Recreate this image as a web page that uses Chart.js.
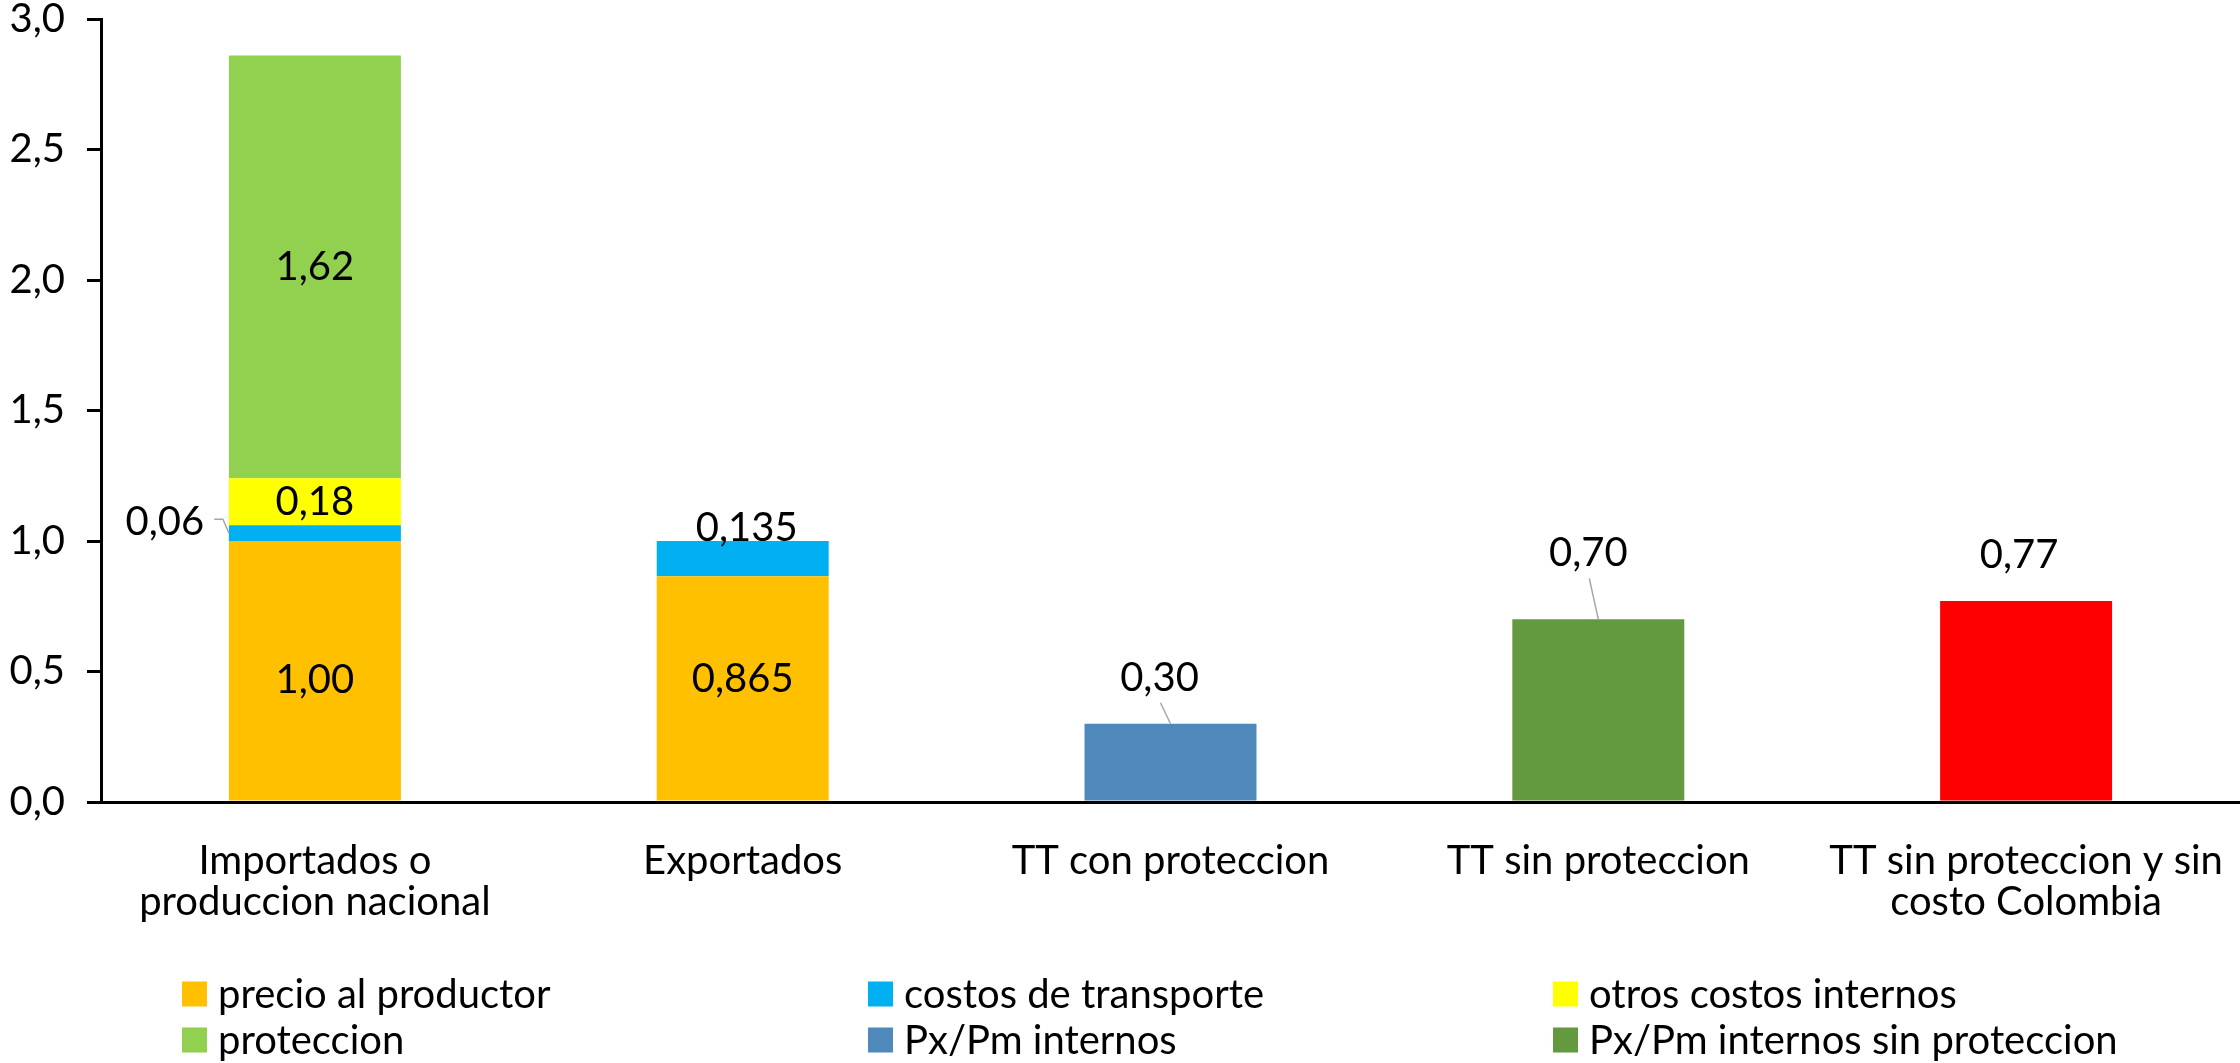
<!DOCTYPE html>
<html>
<head>
<meta charset="utf-8">
<title>Precios y terminos de intercambio</title>
<script src="https://cdn.jsdelivr.net/npm/chart.js@4.4.0/dist/chart.umd.min.js"></script>
<style>
  body { margin: 0; background: #fff; }
  #wrap { width: 2240px; height: 1063px; }
</style>
</head>
<body>
<div id="wrap"><canvas id="myCanvas"></canvas></div>
<script>
// categories (x axis), multi-line ones as arrays
var categories = [
  ['Importados o', 'produccion nacional'],
  'Exportados',
  'TT con proteccion',
  'TT sin proteccion',
  ['TT sin proteccion y sin', 'costo Colombia']
];

// series values, one per category (null = no segment)
var precioProductor   = [1.00, 0.865, null, null, null];
var costosTransporte  = [0.06, 0.135, null, null, null];
var otrosCostos       = [0.18, null, null, null, null];
var proteccion        = [1.62, null, null, null, null];
var pxPmInternos      = [null, null, 0.30, null, null];
var pxPmSinProteccion = [null, null, null, 0.70, null];
var ttSinCosto        = [null, null, null, null, 0.77];

var yTicks = [0, 0.5, 1.0, 1.5, 2.0, 2.5, 3.0];

var FONT = 'Lato, "Open Sans", sans-serif';
var FSIZE = 40;

function comma(v, d) { return v.toFixed(d).replace('.', ','); }
function fmtLabel(v) {
  var d = Math.abs(v * 100 - Math.round(v * 100)) > 1e-6 ? 3 : 2;
  return comma(v, d);
}

// manual label placements (like the hand-moved labels in the original)
var labelPlacement = {
  '0-0': { dy: 9 },
  '0-1': { dy: -9 },
  '1-0': { dx: -150, dy: -11, leader: 'elbow' },
  '1-1': { dx: 4, dy: -31 },
  '4-2': { top: true, dx: -11, dy: -46, leader: 'line' },
  '5-3': { top: true, dx: -10, dy: -66, leader: 'line' },
  '6-4': { top: true, dx: -7, dy: -46 }
};

var valueLabels = {
  id: 'valueLabels',
  afterDatasetsDraw: function(chart) {
    var ctx = chart.ctx;
    ctx.save();
    ctx.font = FSIZE + 'px ' + FONT;
    ctx.fillStyle = '#000';
    ctx.textAlign = 'center';
    ctx.textBaseline = 'middle';
    chart.data.datasets.forEach(function(ds, di) {
      var meta = chart.getDatasetMeta(di);
      ds.data.forEach(function(v, i) {
        if (v === null || v === undefined) return;
        var el = meta.data[i];
        var p = labelPlacement[di + '-' + i] || {};
        var cx = el.x, cy = p.top ? el.y : (el.y + el.base) / 2;
        var tx = cx + (p.dx || 0), ty = cy + (p.dy || 0);
        var txt = fmtLabel(v);
        ctx.fillText(txt, tx, ty);
        if (p.leader) {
          ctx.strokeStyle = '#A6A6A6';
          ctx.lineWidth = 1.5;
          ctx.beginPath();
          if (p.leader === 'elbow') {
            var w = ctx.measureText(txt).width;
            var left = el.x - el.width / 2;
            ctx.moveTo(tx + w / 2 + 10, ty - 3);
            ctx.lineTo(left - 6, ty - 3);
            ctx.lineTo(left, cy);
          } else {
            ctx.moveTo(tx + 1, ty + 25);
            ctx.lineTo(cx, el.y);
          }
          ctx.stroke();
        }
      });
    });
    ctx.restore();
  }
};

// legend in three aligned columns, two rows
var gridLegend = {
  id: 'gridLegend',
  afterDraw: function(chart) {
    var ctx = chart.ctx;
    var cols = [182, 868, 1553], rows = [994, 1040], box = 25;
    var items = chart.data.datasets.filter(function(d) { return !d.hideInLegend; });
    ctx.save();
    ctx.font = FSIZE + 'px ' + FONT;
    ctx.textBaseline = 'middle';
    ctx.textAlign = 'left';
    items.forEach(function(d, k) {
      var x = cols[k % 3], y = rows[Math.floor(k / 3)];
      ctx.fillStyle = d.backgroundColor;
      ctx.fillRect(x, y - box / 2, box, box);
      ctx.fillStyle = '#000';
      ctx.fillText(d.label, x + box + 11, y + 1);
    });
    ctx.restore();
  }
};

new Chart(document.getElementById('myCanvas'), {
  type: 'bar',
  data: {
    labels: categories,
    datasets: [
      { label: 'precio al productor', data: precioProductor, backgroundColor: '#FFC000' },
      { label: 'costos de transporte', data: costosTransporte, backgroundColor: '#00B0F0' },
      { label: 'otros costos internos', data: otrosCostos, backgroundColor: '#FFFF00' },
      { label: 'proteccion', data: proteccion, backgroundColor: '#92D050' },
      { label: 'Px/Pm internos', data: pxPmInternos, backgroundColor: '#4F89BC' },
      { label: 'Px/Pm internos sin proteccion', data: pxPmSinProteccion, backgroundColor: '#639A3F' },
      { label: 'TT sin proteccion y sin costo Colombia', data: ttSinCosto, backgroundColor: '#FF0000', hideInLegend: true }
    ]
  },
  options: {
    responsive: true,
    maintainAspectRatio: false,
    animation: false,
    datasets: { bar: { categoryPercentage: 1, barPercentage: 0.402, borderWidth: 0 } },
    layout: { padding: { top: 19, right: 0, bottom: 130, left: 0 } },
    plugins: { legend: { display: false }, tooltip: { enabled: false } },
    scales: {
      x: {
        stacked: true,
        grid: { display: false },
        border: { display: true, color: '#000', width: 3 },
        ticks: { color: '#000', font: { family: FONT, size: FSIZE, lineHeight: 1.03 }, padding: 30, maxRotation: 0, autoSkip: false },
        afterFit: function(s) { s.height = 131; s.paddingLeft = 0; s.paddingRight = 0; }
      },
      y: {
        stacked: true,
        min: 0,
        max: 3,
        afterBuildTicks: function(s) { s.ticks = yTicks.map(function(v) { return { value: v }; }); },
        ticks: {
          color: '#000',
          font: { family: FONT, size: FSIZE, lineHeight: 1.0 },
          padding: 22,
          callback: function(v) { return comma(v, 1); }
        },
        grid: { drawOnChartArea: false, drawTicks: true, tickLength: 14, color: '#000', lineWidth: 3 },
        border: { display: true, color: '#000', width: 3 },
        afterFit: function(s) { s.width = 101; s.paddingTop = 0; s.paddingBottom = 0; }
      }
    }
  },
  plugins: [valueLabels, gridLegend]
});
</script>
</body>
</html>
